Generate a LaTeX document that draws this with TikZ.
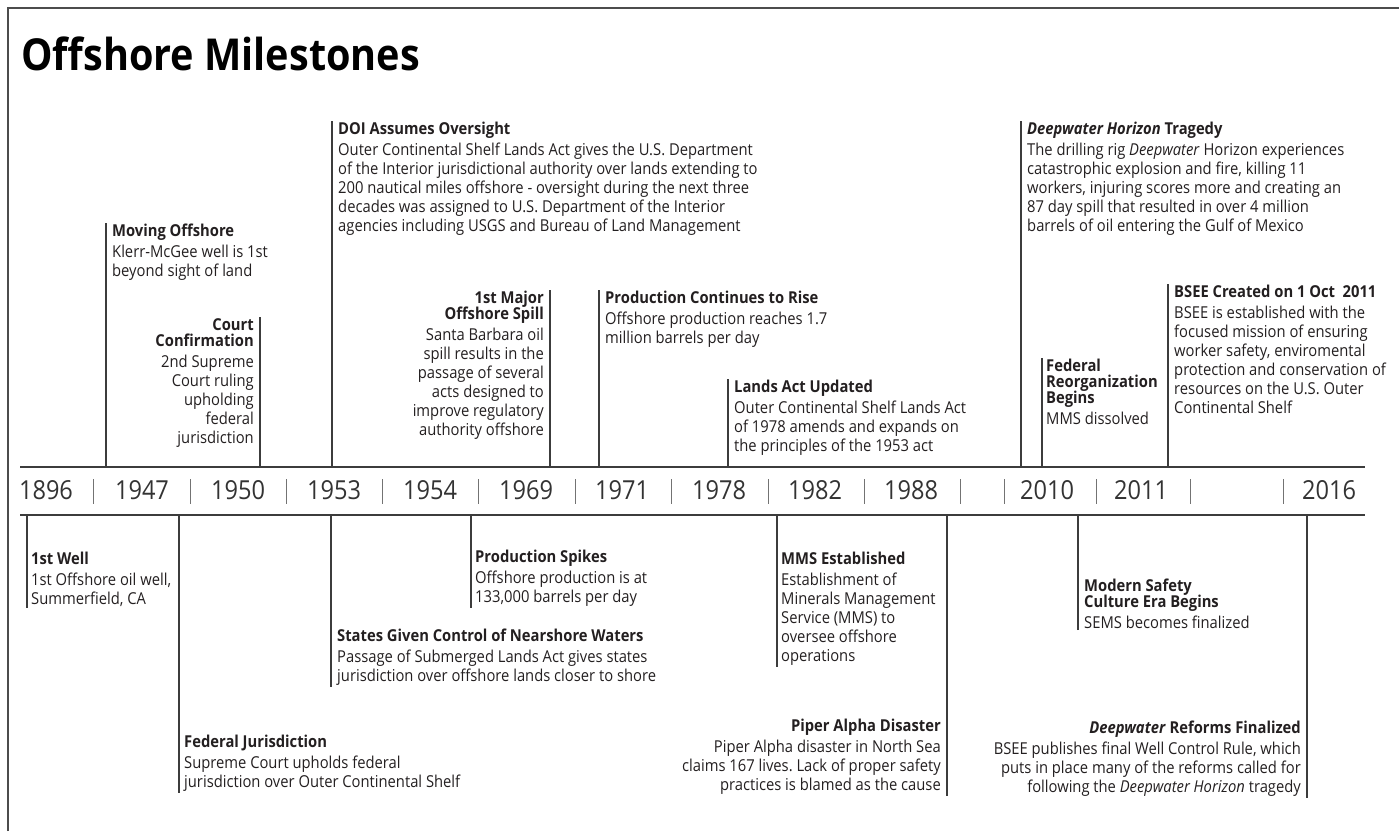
\documentclass[tikz,border=0pt]{standalone}
\usepackage{fontspec}
\setmainfont{Open Sans}[FakeStretch=0.9]
\frenchspacing
\definecolor{ink}{HTML}{231F20}
\definecolor{rulegray}{HTML}{3C3C3C}

\begin{document}
\begin{tikzpicture}[x=1pt, y=-1pt,
  evt/.style={align=left, anchor=north west, inner xsep=6, inner ysep=1, text=ink, font=\fontsize{16.4}{19}\selectfont},
  evtr/.style={evt, align=right, anchor=north east},
  stem/.style={draw=rulegray, line width=1.2pt},
  axisline/.style={draw=rulegray, line width=2pt},
  yr/.style={font=\fontsize{26.2}{30}\selectfont, text=black!80, inner sep=0},
  sep/.style={draw=black!55, line width=0.9pt}
]
\useasboundingbox (0,0) rectangle (1399,831);

% Frame and title
\draw[draw=black!70, line width=1.6pt] (8,831) |- (1399,8);
\node[font=\bfseries\fontsize{44}{52}\selectfont, anchor=base west, inner sep=0, text=black] (title) at (21,70) {Offshore Milestones};

% Axis
\coordinate (axtop) at (20,467);
\coordinate (axtopend) at (1365,467);
\coordinate (axbot) at (20,515);
\coordinate (axbotend) at (1365,515);
\draw[axisline] (axtop) -- (axtopend);
\draw[axisline] (axbot) -- (axbotend);

% Years
\foreach \px/\yy in {46/1896, 142/1947, 238/1950, 334/1953, 430/1954, 526/1969, 622/1971, 719/1978, 815/1982, 911/1988, 1047/2010, 1141/2011, 1329/2016}
  \node[yr] (y\yy) at (\px,490) {\yy};
\foreach \px in {93, 190, 286, 382, 478, 575, 671, 768, 864, 960, 1004, 1096, 1190, 1283}
  \draw[sep] (\px,479) -- (\px,504);

% Above the axis
\node[evt] (moving) at (106,223) {\textbf{Moving Offshore}\\[2pt]Klerr-McGee well is 1st\\beyond sight of land};
\draw[stem] (moving.north west) -- (moving.north west |- axtop);

\node[evtr] (court) at (260,317) {\textbf{Court}\\[-3pt]\textbf{Confirmation}\\[2pt]2nd Supreme\\Court ruling\\upholding\\federal\\jurisdiction};
\draw[stem] (court.north east) -- (court.north east |- axtop);

\node[evt] (doi) at (332,121) {\textbf{DOI Assumes Oversight}\\[2pt]Outer Continental Shelf Lands Act gives the U.S. Department\\of the Interior jurisdictional authority over lands extending to\\200 nautical miles offshore - oversight during the next three\\decades was assigned to U.S. Department of the Interior\\agencies including USGS and Bureau of Land Management};
\draw[stem] (doi.north west) -- (doi.north west |- axtop);

\node[evtr] (spill) at (550,290) {\textbf{1st Major}\\[-3pt]\textbf{Offshore Spill}\\[2pt]Santa Barbara oil\\spill results in the\\passage of several\\acts designed to\\improve regulatory\\authority offshore};
\draw[stem] (spill.north east) -- (spill.north east |- axtop);

\node[evt] (rise) at (599,290) {\textbf{Production Continues to Rise}\\[2pt]Offshore production reaches 1.7\\million barrels per day};
\draw[stem] (rise.north west) -- (rise.north west |- axtop);

\node[evt] (lands) at (728,379) {\textbf{Lands Act Updated}\\[2pt]Outer Continental Shelf Lands Act\\of 1978 amends and expands on\\the principles of the 1953 act};
\draw[stem] (lands.north west) -- (lands.north west |- axtop);

\node[evt] (horizon) at (1021,121) {\textbf{\textit{Deepwater Horizon} Tragedy}\\[2pt]The drilling rig \textit{Deepwater} Horizon experiences\\catastrophic explosion and fire, killing 11\\workers, injuring scores more and creating an\\87 day spill that resulted in over 4 million\\barrels of oil entering the Gulf of Mexico};
\draw[stem] (horizon.north west) -- (horizon.north west |- axtop);

\node[evt, inner xsep=4] (reorg) at (1042,358) {\textbf{Federal}\\[-3pt]\textbf{Reorganization}\\[-3pt]\textbf{Begins}\\[2pt]MMS dissolved};
\draw[stem] (reorg.north west) -- (reorg.north west |- axtop);

\node[evt] (bsee) at (1168,284) {\textbf{BSEE Created on 1 Oct~~2011}\\[2pt]BSEE is established with the\\focused mission of ensuring\\worker safety, enviromental\\protection and conservation of\\resources on the U.S. Outer\\Continental Shelf};
\draw[stem] (bsee.north west) -- (bsee.north west |- axtop);

% Below the axis
\node[evt, inner xsep=4] (well) at (27,551) {\textbf{1st Well}\\[2pt]1st Offshore oil well,\\Summerfield, CA};
\draw[stem] (well.south west) -- (well.south west |- axbot);

\node[evt, inner xsep=5] (fedjur) at (179,734) {\textbf{Federal Jurisdiction}\\[2pt]Supreme Court upholds federal\\jurisdiction over Outer Continental Shelf};
\draw[stem] (fedjur.south west) -- (fedjur.south west |- axbot);

\node[evt] (states) at (331,628) {\textbf{States Given Control of Nearshore Waters}\\[2pt]Passage of Submerged Lands Act gives states\\jurisdiction over offshore lands closer to shore};
\draw[stem] (states.south west) -- (states.south west |- axbot);

\node[evt, inner xsep=4] (spikes) at (471,549) {\textbf{Production Spikes}\\[2pt]Offshore production is at\\133,000 barrels per day};
\draw[stem] (spikes.south west) -- (spikes.south west |- axbot);

\node[evt, inner xsep=4] (mms) at (777,551) {\textbf{MMS Established}\\[2pt]Establishment of\\Minerals Management\\Service (MMS) to\\oversee offshore\\operations};
\draw[stem] (mms.south west) -- (mms.south west |- axbot);

\node[evtr] (piper) at (947,718) {\textbf{Piper Alpha Disaster}\\[2pt]Piper Alpha disaster in North Sea\\claims 167 lives. Lack of proper safety\\practices is blamed as the cause};
\draw[stem] (piper.south east) -- (piper.south east |- axbot);

\node[evt] (modern) at (1078,578) {\textbf{Modern Safety}\\[-3pt]\textbf{Culture Era Begins}\\[2pt]SEMS becomes finalized};
\draw[stem] (modern.south west) -- (modern.south west |- axbot);

\node[evtr] (reforms) at (1307,720) {\textbf{\textit{Deepwater} Reforms Finalized}\\[2pt]BSEE publishes final Well Control Rule, which\\puts in place many of the reforms called for\\following the \textit{Deepwater Horizon} tragedy};
\draw[stem] (reforms.south east) -- (reforms.south east |- axbot);

\end{tikzpicture}
\end{document}
